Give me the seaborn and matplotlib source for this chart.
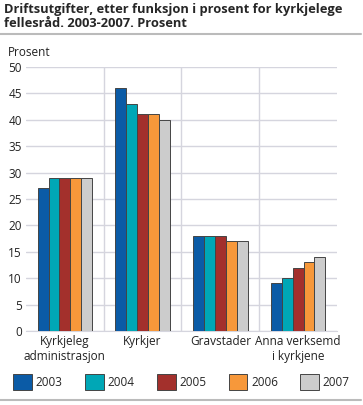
import matplotlib
matplotlib.use("Agg")
import matplotlib.pyplot as plt
import seaborn as sns
import pandas as pd
from matplotlib.patches import Patch
from matplotlib.lines import Line2D

categories = ["Kyrkjeleg\nadministrasjon", "Kyrkjer", "Gravstader", "Anna verksemd\ni kyrkjene"]
years = ["2003", "2004", "2005", "2006", "2007"]
values = {
    "2003": [27, 46, 18, 9],
    "2004": [29, 43, 18, 10],
    "2005": [29, 41, 18, 12],
    "2006": [29, 41, 17, 13],
    "2007": [29, 40, 17, 14],
}
colors = ["#0b5ba6", "#00a7b6", "#a3302c", "#f7983a", "#cccccc"]

rows = []
for y in years:
    for c, v in zip(categories, values[y]):
        rows.append({"kategori": c, "aar": y, "prosent": v})
df = pd.DataFrame(rows)

sns.set_style("white")
plt.rcParams["font.family"] = ["Open Sans", "DejaVu Sans"]

fig = plt.figure(figsize=(3.63, 4.05), dpi=100)
ax = fig.add_axes([0.0716, 0.1827, 0.8567, 0.652])

sns.barplot(data=df, x="kategori", y="prosent", hue="aar", palette=colors,
            saturation=1, width=0.7, edgecolor="#444444", linewidth=0.7,
            ax=ax, legend=False, zorder=3)

ax.set_ylim(0, 50)
ax.set_xlim(-0.5, 3.5)
ax.set_yticks(range(0, 51, 5))
ax.set_xticks([0.5, 1.5, 2.5], minor=True)
ax.grid(axis="y", which="major", color="#d5d5de", linewidth=1, zorder=0)
ax.grid(axis="x", which="minor", color="#d5d5de", linewidth=1, zorder=0)
ax.tick_params(axis="both", which="both", length=0, labelsize=8.5, colors="#222222")
ax.tick_params(axis="x", pad=3)
ax.tick_params(axis="y", pad=3)
for s in ["top", "right", "left"]:
    ax.spines[s].set_visible(False)
ax.spines["bottom"].set_color("#d5d5de")
ax.set_xlabel("")
ax.set_ylabel("")

fig.text(0.022, 0.87, "Prosent", fontsize=8.5, color="#222222", va="center")
fig.text(0.012, 0.992, "Driftsutgifter, etter funksjon i prosent for kyrkjelege\nfellesråd. 2003-2007. Prosent",
         fontsize=9.3, fontweight="bold", va="top", ha="left", linespacing=1.05)

fig.add_artist(Line2D([0, 0.995], [0.916, 0.916], color="#bbbbbb", linewidth=1.5))
fig.add_artist(Line2D([0, 0.995], [0.012, 0.012], color="#bbbbbb", linewidth=1.5))

handles = [Patch(facecolor=c, edgecolor="#444444", linewidth=0.7) for c in colors]
fig.legend(handles, years, loc="center", bbox_to_anchor=(0.5, 0.057), ncol=5,
           frameon=False, fontsize=8.5, handlelength=1.6, handleheight=1.6,
           handletextpad=0.3, columnspacing=1.9)

fig.savefig("out.png", dpi=100)
